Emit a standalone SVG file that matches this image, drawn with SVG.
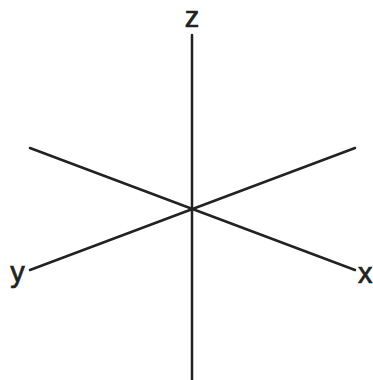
<svg xmlns="http://www.w3.org/2000/svg" width="373" height="380" viewBox="0 0 373 380">
<style>
.ax{stroke:#222;stroke-width:2.5;stroke-linecap:round;fill:none}
.lb{font-family:"Liberation Sans",Arial,sans-serif;font-size:29px;fill:#222;stroke:#222;stroke-width:0.7}
</style>
<rect width="373" height="380" fill="#fff"/>
<g id="connectors">
<line class="ax" x1="192" y1="35" x2="192" y2="382"/>
<line class="ax" x1="30" y1="148" x2="355" y2="270"/>
<line class="ax" x1="30" y1="270" x2="355" y2="148"/>
</g>
<g id="z"><text class="lb" x="192" y="27" text-anchor="middle">z</text></g>
<g id="y"><text class="lb" x="17.5" y="282" text-anchor="middle">y</text></g>
<g id="x"><text class="lb" x="358" y="283">x</text></g>
</svg>
